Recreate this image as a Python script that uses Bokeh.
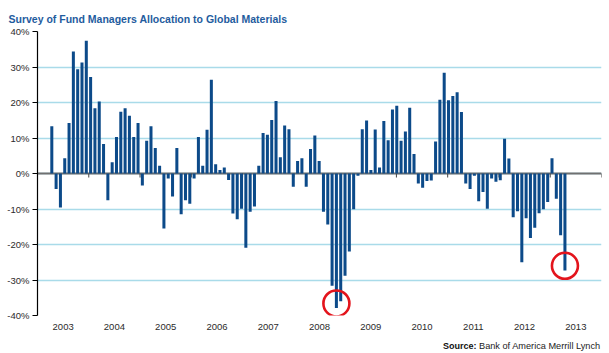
from bokeh.plotting import figure
from bokeh.layouts import column
from bokeh.models import Range1d, FixedTicker, PrintfTickFormatter, CustomJSTickFormatter, Span, Label, Title
from bokeh.embed import file_html
from bokeh.resources import INLINE

# ---------------- data ----------------
title_text = "Survey of Fund Managers Allocation to Global Materials"
source_bold = "Source:"
source_text = "Bank of America Merrill Lynch"

# monthly allocation (% net overweight), first bar = spring 2003
allocation = [
    13.3, -4.4, -9.6, 4.3, 14.2, 34.4, 29.4, 31.3, 37.4, 27.2, 18.4, 20.3,
    8.3, -7.5, 3.2, 10.3, 17.4, 18.4, 16.3, 10.3, 14.2, -3.4, 9.2, 13.3,
    7.2, 2.2, -15.5, -1.4, -6.5, 7.2, -11.5, -7.5, -8.5, -1.4, 10.3, 2.2,
    12.3, 26.4, 2.6, 1.0, 1.7, -1.8, -11.3, -12.9, -9.9, -20.9, -10.8, -9.3,
    2.2, 11.4, 10.9, 15.1, 20.4, 4.6, 13.5, 12.5, -3.7, 3.5, 4.3, -3.7,
    6.9, 10.7, 3.5, -10.8, -14.4, -31.6, -37.9, -36.0, -28.8, -22.0, -10.1, -0.6,
    12.5, 14.9, 1.0, 12.4, 1.7, 14.8, 9.4, 18.0, 19.1, 9.2, 11.8, 18.5,
    5.5, -2.8, -4.0, -2.1, -2.0, 9.0, 20.8, 28.4, 20.6, 21.8, 22.9, 17.3,
    -2.8, -4.4, -0.6, -7.8, -5.2, -9.9, -1.4, -2.3, -1.9, 9.8, 4.2, -12.3,
    -10.6, -25.0, -12.6, -18.2, -15.3, -11.2, -10.1, -8.0, 4.3, -7.1, -17.4, -27.3,
]
years = list(range(2003, 2014))
year_edges = list(range(2004, 2015))
y_ticks = [-40, -30, -20, -10, 0, 10, 20, 30, 40]
highlight_bars = [66, 119]

# ---------------- layout constants ----------------
W, H = 609, 353
FOOT_H = 20                      # strip holding the source credit
MAIN_H = H - FOOT_H
FRAME_L, FRAME_R, FRAME_T, FRAME_B = 37, 601, 31, 315
X_START, X_END = 2003.0, 2014.0
FIRST_BAR = 2003.279
BAR_STEP = 0.0841
BAR_W = 0.7 * BAR_STEP

px_per_y = (FRAME_B - FRAME_T) / 80.0

bar_x = [FIRST_BAR + i * BAR_STEP for i in range(len(allocation))]
year_centers = [y + 0.5 for y in years]

FONT = "'Liberation Sans', Arial, sans-serif"
BAR_COLOR = "#0c4a89"
GRID_COLOR = "#a9dbe9"
TEXT_COLOR = "#2b2b2b"

p = figure(width=W, height=MAIN_H, output_backend="svg", toolbar_location=None, title=None,
           x_range=Range1d(X_START, X_END), y_range=Range1d(-40, 40),
           min_border_left=FRAME_L, min_border_right=W - FRAME_R,
           min_border_top=FRAME_T, min_border_bottom=MAIN_H - FRAME_B)
p.outline_line_color = None
p.background_fill_color = "white"
p.border_fill_color = "white"

# y axis
p.yaxis.ticker = FixedTicker(ticks=y_ticks)
p.yaxis.formatter = PrintfTickFormatter(format="%d%%")
p.yaxis.axis_line_color = "black"
p.yaxis.axis_line_width = 1.2
p.yaxis.major_tick_line_color = "black"
p.yaxis.major_tick_out = 5
p.yaxis.major_tick_in = 0
p.yaxis.minor_tick_line_color = None
p.yaxis.major_label_standoff = 3
p.yaxis.major_label_text_font = FONT
p.yaxis.major_label_text_font_size = "9.5px"
p.yaxis.major_label_text_color = TEXT_COLOR

# x axis: year labels centred in each year
p.xaxis.ticker = FixedTicker(ticks=year_centers)
p.xaxis.formatter = CustomJSTickFormatter(code="return Math.floor(tick).toString();")
p.xaxis.axis_line_color = None
p.xaxis.major_tick_line_color = None
p.xaxis.minor_tick_line_color = None
p.xaxis.major_label_standoff = 2
p.xaxis.major_label_text_font = FONT
p.xaxis.major_label_text_font_size = "9.5px"
p.xaxis.major_label_text_color = TEXT_COLOR

# grids
p.xgrid.grid_line_color = None
p.ygrid.ticker = FixedTicker(ticks=y_ticks)
p.ygrid.grid_line_color = GRID_COLOR
p.ygrid.grid_line_width = 1.3

# zero line with year tick marks
p.add_layout(Span(location=0, dimension="width", line_color="#707070", line_width=2, level="underlay"))
p.segment(x0=year_edges, y0=[0] * len(year_edges), x1=year_edges,
          y1=[-4 / px_per_y] * len(year_edges), line_color="#444444", line_width=1)

# bars
p.vbar(x=bar_x, top=allocation, bottom=0, width=BAR_W, fill_color=BAR_COLOR, line_color=None)

# red highlight circles
p.scatter(x=[bar_x[i] for i in highlight_bars], y=[allocation[i] + 1.3 for i in highlight_bars],
          marker="circle", size=26, fill_color=None, line_color="#e3141c", line_width=2.6)

# title (above panel)
p.add_layout(Title(text=title_text, align="left", offset=8 - FRAME_L, standoff=10,
                   vertical_align="top",
                   text_font=FONT, text_font_style="bold", text_font_size="10.5px",
                   text_color="#1f5c9e"), "above")

# footer strip with the source credit; its frame matches the chart frame so
# data x equals canvas pixel x
f = figure(width=W, height=FOOT_H, output_backend="svg", toolbar_location=None, title=None,
           x_range=Range1d(FRAME_L, FRAME_R), y_range=Range1d(0, FOOT_H),
           x_axis_type=None, y_axis_type=None,
           min_border_left=FRAME_L, min_border_right=W - FRAME_R, min_border_top=0, min_border_bottom=0)
f.outline_line_color = None
f.xgrid.grid_line_color = None
f.ygrid.grid_line_color = None
f.background_fill_color = "white"
f.border_fill_color = "white"
base_y = FOOT_H - (345 - MAIN_H)
f.add_layout(Label(x=476, y=base_y, text=source_bold, text_font=FONT, text_font_style="bold",
                   text_font_size="9px", text_color="#111111", text_baseline="alphabetic",
                   text_align="right"))
f.add_layout(Label(x=478.5, y=base_y, text=source_text, text_font=FONT,
                   text_font_size="9.2px", text_color="#222222", text_baseline="alphabetic",
                   text_align="left"))

layout = column(p, f, spacing=0)
open("out.html", "w").write(file_html(layout, INLINE))
